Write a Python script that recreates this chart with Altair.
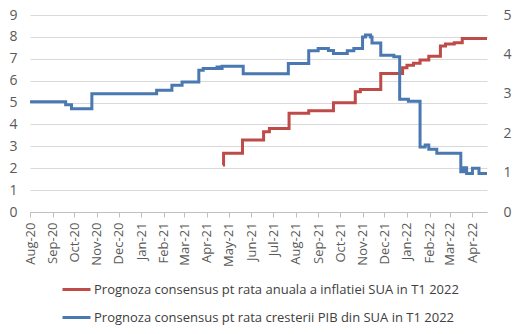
import altair as alt
import pandas as pd

RED_LABEL = "Prognoza consensus pt rata anuala a inflatiei SUA in T1 2022"
BLUE_LABEL = "Prognoza consensus pt rata cresterii PIB din SUA in T1 2022"

# Inflation consensus (left axis)
red_dates = ["2021-04-23", "2021-04-24", "2021-05-20", "2021-06-18", "2021-06-26",
             "2021-07-23", "2021-08-19", "2021-09-22", "2021-10-22", "2021-10-29",
             "2021-11-26", "2021-12-26", "2022-01-01", "2022-01-10", "2022-01-19",
             "2022-01-31", "2022-02-16", "2022-02-23", "2022-03-07", "2022-03-18",
             "2022-04-21"]
red_values = [2.15, 2.68, 3.29, 3.67, 3.82,
              4.51, 4.63, 4.99, 5.49, 5.60,
              6.33, 6.59, 6.71, 6.79, 6.94,
              7.12, 7.58, 7.67, 7.73, 7.93,
              7.93]

# GDP growth consensus (right axis)
blue_dates = ["2020-08-01", "2020-09-19", "2020-09-27", "2020-10-25", "2021-01-22",
              "2021-02-12", "2021-02-26", "2021-03-21", "2021-03-27", "2021-04-15",
              "2021-04-18", "2021-04-22", "2021-05-21", "2021-07-22", "2021-08-19",
              "2021-09-01", "2021-09-15", "2021-09-22", "2021-10-11", "2021-10-20",
              "2021-11-01", "2021-11-05", "2021-11-12", "2021-11-14", "2021-11-26",
              "2021-12-14", "2021-12-22", "2022-01-03", "2022-01-19", "2022-01-26",
              "2022-01-31", "2022-02-11", "2022-03-16", "2022-03-20", "2022-03-24",
              "2022-04-01", "2022-04-10", "2022-04-21"]
blue_values = [2.80, 2.72, 2.62, 3.00, 3.09,
               3.22, 3.30, 3.60, 3.64, 3.68,
               3.64, 3.70, 3.51, 3.77, 4.09,
               4.15, 4.10, 4.02, 4.09, 4.15,
               4.44, 4.49, 4.44, 4.29, 3.98,
               3.94, 2.86, 2.81, 1.65, 1.70,
               1.59, 1.49, 1.02, 1.12, 0.98,
               1.11, 0.98, 0.98]

left_ticks = list(range(0, 10))
right_ticks = list(range(0, 6))
month_ticks = ["2020-08-01", "2020-09-01", "2020-10-01", "2020-11-01", "2020-12-01",
               "2021-01-01", "2021-02-01", "2021-03-01", "2021-04-01", "2021-05-01",
               "2021-06-01", "2021-07-01", "2021-08-01", "2021-09-01", "2021-10-01",
               "2021-11-01", "2021-12-01", "2022-01-01", "2022-02-01", "2022-03-01",
               "2022-04-01"]
x_start, x_end = "2020-08-01", "2022-04-21"


def ms(d):
    return int(pd.Timestamp(d, tz="UTC").value // 10**6)


red_df = pd.DataFrame({"date": red_dates, "value": red_values, "series": RED_LABEL})
blue_df = pd.DataFrame({"date": blue_dates, "value": blue_values, "series": BLUE_LABEL})

FONT = "Open Sans"
LABEL_COLOR = "#595959"

x_enc = alt.X(
    "date:T",
    scale=alt.Scale(type="utc", domain=[ms(x_start), ms(x_end)]),
    axis=alt.Axis(
        values=[ms(d) for d in month_ticks],
        labelExpr="utcFormat(datum.value, '%b-%y')",
        labelAngle=-90,
        labelFontSize=13,
        labelColor=LABEL_COLOR,
        labelFont=FONT,
        labelPadding=5,
        tickSize=5,
        tickColor="#bfbfbf",
        domainColor="#bfbfbf",
        grid=False,
        title=None,
        labelOverlap=False,
    ),
)

color_enc = alt.Color(
    "series:N",
    scale=alt.Scale(domain=[RED_LABEL, BLUE_LABEL], range=["#BE4B48", "#4A78B0"]),
    legend=alt.Legend(
        title=None,
        orient="none",
        legendX=31,
        legendY=259,
        direction="vertical",
        symbolType="stroke",
        symbolSize=784,
        symbolStrokeWidth=3,
        labelFontSize=13,
        labelFont=FONT,
        labelColor="#404040",
        labelLimit=1000,
        labelOffset=2,
        rowPadding=5,
        padding=0,
    ),
)

red = alt.Chart(red_df).mark_line(interpolate="step-after", strokeWidth=3).encode(
    x=x_enc,
    y=alt.Y(
        "value:Q",
        scale=alt.Scale(domain=[0, 9], nice=False, zero=True),
        axis=alt.Axis(
            orient="left",
            values=left_ticks,
            grid=True,
            gridColor="#d9d9d9",
            gridWidth=1,
            domain=False,
            ticks=False,
            labelPadding=13,
            labelFontSize=14,
            labelFont=FONT,
            labelColor=LABEL_COLOR,
            title=None,
        ),
    ),
    color=color_enc,
)

blue = alt.Chart(blue_df).mark_line(interpolate="step-after", strokeWidth=3).encode(
    x=x_enc,
    y=alt.Y(
        "value:Q",
        scale=alt.Scale(domain=[0, 5], nice=False, zero=True),
        axis=alt.Axis(
            orient="right",
            values=right_ticks,
            grid=False,
            domain=False,
            ticks=False,
            labelPadding=16,
            labelFontSize=14,
            labelFont=FONT,
            labelColor=LABEL_COLOR,
            title=None,
        ),
    ),
    color=color_enc,
)

chart = (
    alt.layer(red, blue)
    .resolve_scale(y="independent")
    .properties(
        width=457,
        height=197,
        autosize=alt.AutoSizeParams(type="none"),
        padding={"left": 30, "top": 15, "right": 30, "bottom": 122},
        background="white",
    )
    .configure_view(stroke=None)
)

chart.save("out.html", embed_options={"renderer": "svg", "actions": False})
